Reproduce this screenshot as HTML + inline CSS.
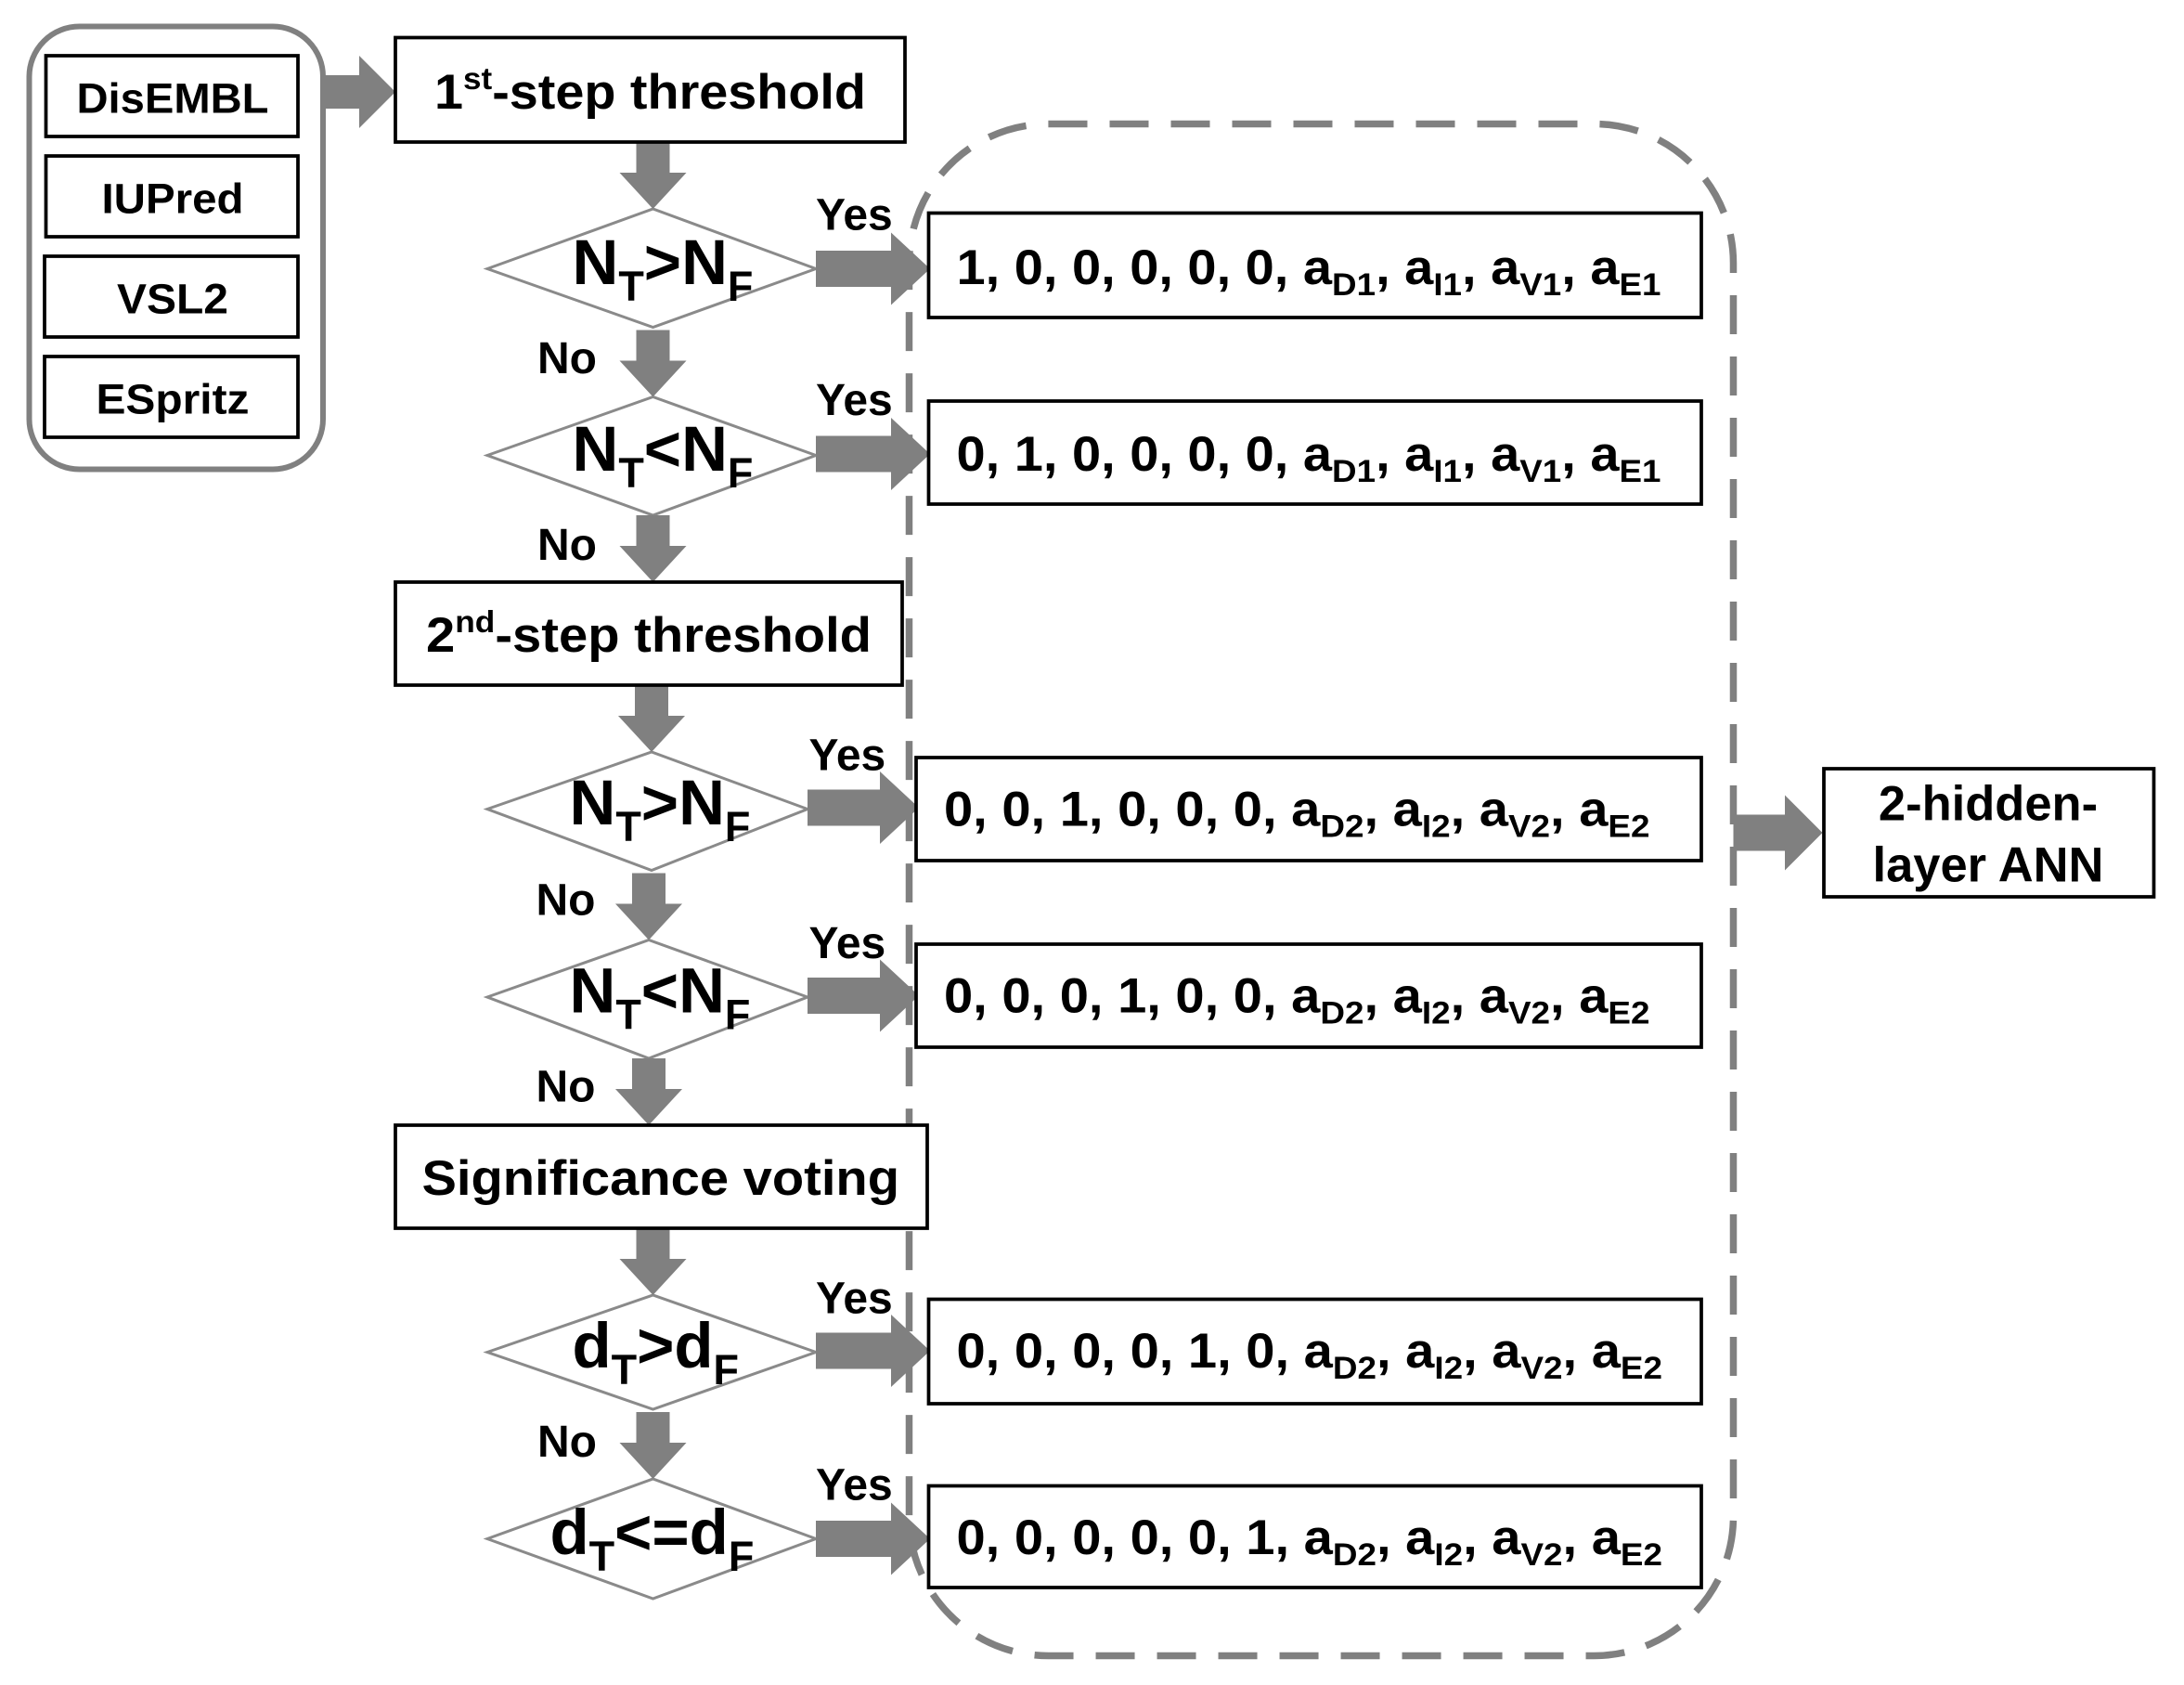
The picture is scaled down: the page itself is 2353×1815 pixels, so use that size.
<!DOCTYPE html>
<html><head><meta charset="utf-8"><style>
html,body{margin:0;padding:0;background:#fff;}
svg{display:block;}
text{font-family:"Liberation Sans",Arial,sans-serif;font-weight:bold;fill:#000;}
</style></head><body>
<svg width="2353" height="1815" viewBox="0 0 1568.67 1210" xmlns="http://www.w3.org/2000/svg">
<defs>
<path id="ad" d="M-12,-48 H12 V-26 H24 L0,0 L-24,-26 H-12 Z"/>
</defs>
<!-- left group -->
<rect x="21" y="19" width="211" height="318" rx="36" fill="none" stroke="#808080" stroke-width="4"/>
<g fill="#fff" stroke="#000" stroke-width="2.5">
<rect x="33" y="40" width="181" height="58"/>
<rect x="33" y="112" width="181" height="58"/>
<rect x="32" y="184" width="182" height="58"/>
<rect x="32" y="256" width="182" height="58"/>
</g>
<g font-size="30" text-anchor="middle">
<text x="124" y="81" textLength="138" lengthAdjust="spacingAndGlyphs">DisEMBL</text>
<text x="124" y="153" textLength="102" lengthAdjust="spacingAndGlyphs">IUPred</text>
<text x="124" y="225" textLength="80" lengthAdjust="spacingAndGlyphs">VSL2</text>
<text x="124" y="297" textLength="110" lengthAdjust="spacingAndGlyphs">ESpritz</text>
</g>
<!-- dashed group -->
<rect x="653" y="89" width="592" height="1100" rx="100" fill="none" stroke="#808080" stroke-width="5" stroke-dasharray="28,16"/>
<!-- diamonds -->
<g fill="#fff" stroke="#8a8a8a" stroke-width="2">
<path d="M350,193 L469,150 L586,193 L469,235 Z"/>
<path d="M350,327 L469,285 L586,327 L469,370 Z"/>
<path d="M350,581 L468,540 L580,581 L468,625 Z"/>
<path d="M350,716 L466,675 L580,716 L466,760 Z"/>
<path d="M350,971 L469,930 L586,971 L469,1012 Z"/>
<path d="M350,1105 L469,1062 L586,1105 L469,1148 Z"/>
</g>
<!-- arrows -->
<g fill="#808080">
<path d="M232,54 H258 V40 L284,66 L258,92 V78 H232 Z"/>
<path d="M586,180 H640 V167 L668,193 L640,219 V206 H586 Z"/>
<path d="M586,313 H640 V300 L668,326 L640,352 V339 H586 Z"/>
<path d="M580,567 H632 V554 L660,580 L632,606 V593 H580 Z"/>
<path d="M580,702 H632 V689 L660,715 L632,741 V728 H580 Z"/>
<path d="M586,957 H640 V944 L668,970 L640,996 V983 H586 Z"/>
<path d="M586,1092 H640 V1079 L668,1105 L640,1131 V1118 H586 Z"/>
<path d="M1245,585 H1282 V571 L1309,598 L1282,625 V611 H1245 Z"/>
<use href="#ad" transform="translate(469,150)"/>
<use href="#ad" transform="translate(469,285)"/>
<use href="#ad" transform="translate(469,418)"/>
<use href="#ad" transform="translate(468,540)"/>
<use href="#ad" transform="translate(466,675)"/>
<use href="#ad" transform="translate(466,808)"/>
<use href="#ad" transform="translate(469,930)"/>
<use href="#ad" transform="translate(469,1062)"/>
</g>
<!-- process boxes -->
<g fill="#fff" stroke="#000" stroke-width="2.5">
<rect x="284" y="27" width="366" height="75"/>
<rect x="284" y="418" width="364" height="74"/>
<rect x="284" y="808" width="382" height="74"/>
<rect x="667" y="153" width="555" height="75"/>
<rect x="667" y="288" width="555" height="74"/>
<rect x="658" y="544" width="564" height="74"/>
<rect x="658" y="678" width="564" height="74"/>
<rect x="667" y="933" width="555" height="75"/>
<rect x="667" y="1067" width="555" height="73"/>
<rect x="1310" y="552" width="237" height="92"/>
</g>
<g font-size="35">
<text x="312" y="78" textLength="310" lengthAdjust="spacingAndGlyphs">1<tspan font-size="22" dy="-14">st</tspan><tspan dy="14">-step threshold</tspan></text>
<text x="306" y="468" textLength="320" lengthAdjust="spacingAndGlyphs">2<tspan font-size="22" dy="-14">nd</tspan><tspan dy="14">-step threshold</tspan></text>
<text x="303" y="858" textLength="343" lengthAdjust="spacingAndGlyphs">Significance voting</text>
<text x="1428" y="589" text-anchor="middle">2-hidden-</text>
<text x="1428" y="633" text-anchor="middle">layer ANN</text>
</g>
<g font-size="46">
<text x="411" y="204">N<tspan font-size="30" dy="12">T</tspan><tspan dy="-12">&gt;N</tspan><tspan font-size="30" dy="12">F</tspan></text>
<text x="411" y="338">N<tspan font-size="30" dy="12">T</tspan><tspan dy="-12">&lt;N</tspan><tspan font-size="30" dy="12">F</tspan></text>
<text x="409" y="592">N<tspan font-size="30" dy="12">T</tspan><tspan dy="-12">&gt;N</tspan><tspan font-size="30" dy="12">F</tspan></text>
<text x="409" y="727">N<tspan font-size="30" dy="12">T</tspan><tspan dy="-12">&lt;N</tspan><tspan font-size="30" dy="12">F</tspan></text>
<text x="411" y="982">d<tspan font-size="30" dy="12">T</tspan><tspan dy="-12">&gt;d</tspan><tspan font-size="30" dy="12">F</tspan></text>
<text x="395" y="1116">d<tspan font-size="30" dy="12">T</tspan><tspan dy="-12">&lt;=d</tspan><tspan font-size="30" dy="12">F</tspan></text>
</g>
<!-- Yes/No -->
<g font-size="32">
<text x="586" y="165">Yes</text>
<text x="586" y="298">Yes</text>
<text x="581" y="553">Yes</text>
<text x="581" y="688">Yes</text>
<text x="586" y="943">Yes</text>
<text x="586" y="1077">Yes</text>
<text x="386" y="268">No</text>
<text x="386" y="402">No</text>
<text x="385" y="657">No</text>
<text x="385" y="791">No</text>
<text x="386" y="1046">No</text>
</g>
<!-- result text -->
<g font-size="35">
<text x="687" y="204" textLength="506" lengthAdjust="spacingAndGlyphs">1, 0, 0, 0, 0, 0, a<tspan font-size="23" dy="8">D1</tspan><tspan dy="-8">, a</tspan><tspan font-size="23" dy="8">I1</tspan><tspan dy="-8">, a</tspan><tspan font-size="23" dy="8">V1</tspan><tspan dy="-8">, a</tspan><tspan font-size="23" dy="8">E1</tspan></text>
<text x="687" y="338" textLength="506" lengthAdjust="spacingAndGlyphs">0, 1, 0, 0, 0, 0, a<tspan font-size="23" dy="8">D1</tspan><tspan dy="-8">, a</tspan><tspan font-size="23" dy="8">I1</tspan><tspan dy="-8">, a</tspan><tspan font-size="23" dy="8">V1</tspan><tspan dy="-8">, a</tspan><tspan font-size="23" dy="8">E1</tspan></text>
<text x="678" y="593" textLength="507" lengthAdjust="spacingAndGlyphs">0, 0, 1, 0, 0, 0, a<tspan font-size="23" dy="8">D2</tspan><tspan dy="-8">, a</tspan><tspan font-size="23" dy="8">I2</tspan><tspan dy="-8">, a</tspan><tspan font-size="23" dy="8">V2</tspan><tspan dy="-8">, a</tspan><tspan font-size="23" dy="8">E2</tspan></text>
<text x="678" y="727" textLength="507" lengthAdjust="spacingAndGlyphs">0, 0, 0, 1, 0, 0, a<tspan font-size="23" dy="8">D2</tspan><tspan dy="-8">, a</tspan><tspan font-size="23" dy="8">I2</tspan><tspan dy="-8">, a</tspan><tspan font-size="23" dy="8">V2</tspan><tspan dy="-8">, a</tspan><tspan font-size="23" dy="8">E2</tspan></text>
<text x="687" y="982" textLength="507" lengthAdjust="spacingAndGlyphs">0, 0, 0, 0, 1, 0, a<tspan font-size="23" dy="8">D2</tspan><tspan dy="-8">, a</tspan><tspan font-size="23" dy="8">I2</tspan><tspan dy="-8">, a</tspan><tspan font-size="23" dy="8">V2</tspan><tspan dy="-8">, a</tspan><tspan font-size="23" dy="8">E2</tspan></text>
<text x="687" y="1116" textLength="507" lengthAdjust="spacingAndGlyphs">0, 0, 0, 0, 0, 1, a<tspan font-size="23" dy="8">D2</tspan><tspan dy="-8">, a</tspan><tspan font-size="23" dy="8">I2</tspan><tspan dy="-8">, a</tspan><tspan font-size="23" dy="8">V2</tspan><tspan dy="-8">, a</tspan><tspan font-size="23" dy="8">E2</tspan></text>
</g>
</svg>
</body></html>
